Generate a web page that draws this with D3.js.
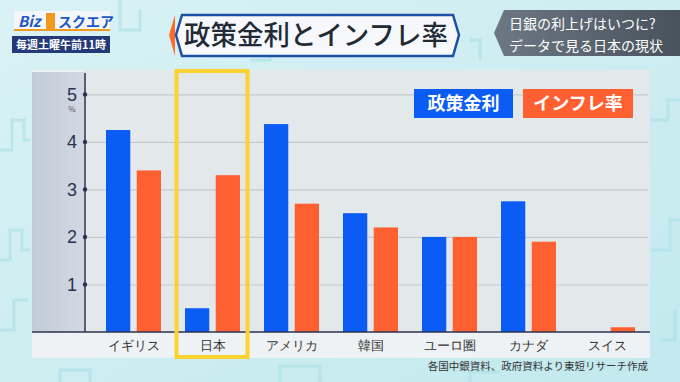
<!DOCTYPE html>
<html>
<meta charset="utf-8">
<style>
body { margin: 0; background: #cfeef2; }
svg { display: block; font-family: 'Noto Sans CJK JP', 'Noto Sans', sans-serif; }
.grid path { stroke-width: 0; }
.grid .tick line { stroke: #c3cacd; stroke-width: 1.2; }
.yaxis path, .yaxis line { display: none; }
.yaxis text { font-family: 'Liberation Sans', Arial, sans-serif; font-size: 18px; fill: #2b3252; }
.xaxis path, .xaxis line { display: none; }
.xaxis text { font-size: 13px; fill: #333; }
</style>
<body>
<svg width="680" height="382"></svg>
<script src="https://cdn.jsdelivr.net/npm/d3@7"></script>
<script>

var categories = ["イギリス", "日本", "アメリカ", "韓国", "ユーロ圏", "カナダ", "スイス"];
var policyRate = [4.25, 0.5, 4.375, 2.5, 2.0, 2.75, 0];
var inflation = [3.4, 3.3, 2.7, 2.2, 2.0, 1.9, 0.1];
var yTicks = [1, 2, 3, 4, 5];
var seriesNames = ["政策金利", "インフレ率"];
var colors = ["#0b5cf4", "#ff6031"];

var svg = d3.select("svg");
var defs = svg.append("defs");

// background
var bg = defs.append("linearGradient").attr("id", "bg").attr("x1", 0).attr("y1", 0).attr("x2", 1).attr("y2", 1);
bg.append("stop").attr("offset", "0%").attr("stop-color", "#d9f2f5");
bg.append("stop").attr("offset", "100%").attr("stop-color", "#c2e9ee");
svg.append("rect").attr("width", 680).attr("height", 382).attr("fill", "url(#bg)");

// faint decorative pattern
var deco = svg.append("g").attr("fill", "none").attr("stroke", "#a9dfe6").attr("stroke-width", 3).attr("opacity", 0.6);
deco.append("path").attr("d", "M0,150 L12,150 L12,120 L24,120 L24,140 L30,140 M0,260 L10,260 L10,230 L22,230 L22,250 L30,250 M0,330 L14,330 L14,300 L28,300");
deco.append("path").attr("d", "M120,0 L120,30 L140,30 L140,10 M250,60 L270,60 L270,40 L290,40 M470,40 L480,40 L480,60 M650,120 L668,120 L668,100 L680,100 M652,250 L670,250 L670,220 L680,220 M660,340 L675,340 L675,310");
deco.append("path").attr("d", "M60,382 L60,370 L90,370 L90,382 M280,382 L280,366 L320,366 L320,382 M470,382 L470,372 L500,372");

// panel
var axisGrad = defs.append("linearGradient").attr("id", "axisbg").attr("x1", 0).attr("y1", 0).attr("x2", 1).attr("y2", 0);
axisGrad.append("stop").attr("offset", "0%").attr("stop-color", "#c2cbd8");
axisGrad.append("stop").attr("offset", "100%").attr("stop-color", "#d2d9e3");
svg.append("rect").attr("x", 32).attr("y", 70).attr("width", 618).attr("height", 288).attr("fill", "#eef2f4");
svg.append("rect").attr("x", 85).attr("y", 70).attr("width", 565).attr("height", 262).attr("fill", "#e3e9eb");
svg.append("rect").attr("x", 32).attr("y", 72).attr("width", 53).attr("height", 260).attr("fill", "url(#axisbg)");

var x = d3.scaleBand().domain(categories).range([94, 647]);
var x1 = d3.scaleBand().domain(seriesNames).range([12, 67]).paddingInner(0.21);
var y = d3.scaleLinear().domain([0, 5.45]).range([332, 73]);

// gridlines
svg.append("g").attr("class", "grid")
  .attr("transform", "translate(85,0)")
  .call(d3.axisRight(y).tickValues(yTicks).tickSize(563).tickFormat(""));

// bars
var data = [];
categories.forEach(function(c, i) {
  data.push({ cat: c, s: seriesNames[0], v: policyRate[i], col: colors[0] });
  data.push({ cat: c, s: seriesNames[1], v: inflation[i], col: colors[1] });
});
svg.append("g").selectAll("rect").data(data).enter().append("rect")
  .attr("x", function(d) { return x(d.cat) + x1(d.s); })
  .attr("y", function(d) { return y(d.v); })
  .attr("width", x1.bandwidth())
  .attr("height", function(d) { return y(0) - y(d.v); })
  .attr("fill", function(d) { return d.col; });

// baseline and y axis line
svg.append("line").attr("x1", 32).attr("x2", 650).attr("y1", y(0)).attr("y2", y(0)).attr("stroke", "#2b3350").attr("stroke-width", 1.5);
svg.append("line").attr("x1", 85).attr("x2", 85).attr("y1", 73).attr("y2", y(0)).attr("stroke", "#2b3350").attr("stroke-width", 1.5);

svg.append("g").attr("class", "yaxis")
  .attr("transform", "translate(85,0)")
  .call(d3.axisLeft(y).tickValues(yTicks).tickSize(0).tickPadding(8).tickFormat(d3.format("d")));
svg.append("g").selectAll("circle").data(yTicks).enter().append("circle")
  .attr("cx", 85).attr("cy", function(d) { return y(d); }).attr("r", 2.2).attr("fill", "#2b3350");
svg.append("text").attr("x", 72).attr("y", y(5) + 18).attr("text-anchor", "middle")
  .attr("font-size", 8).attr("fill", "#555").text("%");

svg.append("g").attr("class", "xaxis")
  .attr("transform", "translate(0," + (y(0) + 5) + ")")
  .call(d3.axisBottom(x).tickSize(0).tickPadding(4));

// highlight box for Japan
svg.append("rect").attr("x", x("日本") + 3.5).attr("y", 71).attr("width", 71).attr("height", 286)
  .attr("fill", "none").attr("stroke", "#fbd232").attr("stroke-width", 4);

// legend
var legendX = [414, 523], legendW = [99, 110];
seriesNames.forEach(function(s, i) {
  svg.append("rect").attr("x", legendX[i]).attr("y", 89).attr("width", legendW[i]).attr("height", 29).attr("fill", colors[i]);
  svg.append("text").attr("x", legendX[i] + legendW[i] / 2).attr("y", 110).attr("text-anchor", "middle")
    .attr("font-size", 18).attr("font-weight", "bold").attr("fill", "#fff").text(s);
});

// source
svg.append("text").attr("x", 648).attr("y", 370).attr("text-anchor", "end")
  .attr("font-size", 10.5).attr("fill", "#333").text("各国中銀資料、政府資料より東短リサーチ作成");

// title box
svg.append("path").attr("d", "M169,35 L175,15 L175,56 Z").attr("fill", "#ff6a2a");
svg.append("path").attr("d", "M176,35 L182,15 L453,15 L459,35 L453,56 L182,56 Z")
  .attr("fill", "#f6f8fb").attr("stroke", "#1c4fa6").attr("stroke-width", 2.5);
svg.append("text").attr("x", 316).attr("y", 45).attr("text-anchor", "middle")
  .attr("font-size", 27).attr("font-weight", 500).attr("fill", "#222a36")
  .attr("textLength", 264).attr("lengthAdjust", "spacingAndGlyphs").text("政策金利とインフレ率");

// subtitle box
var sub = defs.append("linearGradient").attr("id", "sub").attr("x1", 0).attr("y1", 0).attr("x2", 1).attr("y2", 0);
sub.append("stop").attr("offset", "0%").attr("stop-color", "#6c7884");
sub.append("stop").attr("offset", "100%").attr("stop-color", "#48525d");
svg.append("path").attr("d", "M494,33 L504,10 L680,10 L680,56 L504,56 Z").attr("fill", "url(#sub)");
svg.append("text").attr("x", 509).attr("y", 29).attr("font-size", 14)
  .attr("fill", "#fff").text("日銀の利上げはいつに?");
svg.append("text").attr("x", 509).attr("y", 51).attr("font-size", 14)
  .attr("fill", "#fff").text("データで見る日本の現状");

// logo
svg.append("rect").attr("x", 14).attr("y", 11).attr("width", 96).attr("height", 20).attr("fill", "#f4f7fa");
svg.append("rect").attr("x", 14).attr("y", 29).attr("width", 96).attr("height", 2).attr("fill", "#f29a1e");
svg.append("text").attr("x", 18).attr("y", 27).attr("font-size", 15).attr("font-weight", "bold")
  .attr("fill", "#1e56c8").attr("font-style", "italic").text("Biz");
svg.append("rect").attr("x", 46).attr("y", 13).attr("width", 9).attr("height", 16).attr("fill", "#f29a1e");
svg.append("text").attr("x", 58).attr("y", 27).attr("font-size", 14).attr("font-weight", "bold")
  .attr("fill", "#1e56c8").text("スクエア");
svg.append("rect").attr("x", 12).attr("y", 36).attr("width", 98).attr("height", 17).attr("fill", "#243a78");
svg.append("text").attr("x", 61).attr("y", 49).attr("text-anchor", "middle").attr("font-size", 11)
  .attr("font-weight", "bold").attr("fill", "#fff").text("毎週土曜午前11時");

</script>
</body>
</html>
